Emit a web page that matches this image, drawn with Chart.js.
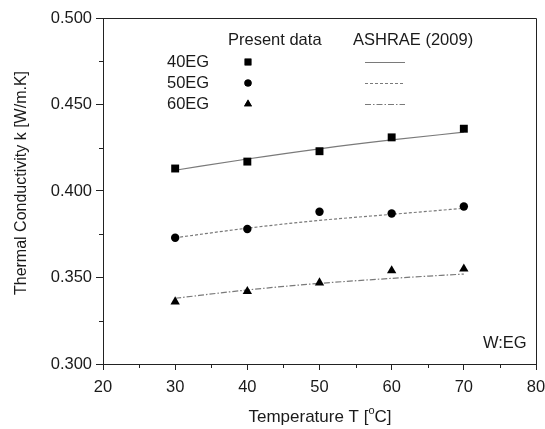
<!DOCTYPE html>
<html>
<head>
<meta charset="utf-8">
<script src="https://cdn.jsdelivr.net/npm/chart.js@4.4.1/dist/chart.umd.min.js"></script>
<style>
  html, body { margin: 0; padding: 0; background: #fff; }
  #wrap { width: 545px; height: 429px; }
</style>
</head>
<body>
<div id="wrap"><canvas id="c" width="545" height="429"></canvas></div>
<script>
// ── Data ─────────────────────────────────────────────
const temps      = [30, 40, 50, 60, 70];
const k40Present = [0.413, 0.417, 0.423, 0.431, 0.436];
const k50Present = [0.373, 0.378, 0.388, 0.387, 0.391];
const k60Present = [0.336, 0.342, 0.347, 0.354, 0.355];
const k40Ashrae  = [0.412, 0.4185, 0.4244, 0.4295, 0.434];
const k50Ashrae  = [0.373, 0.3785, 0.383, 0.3865, 0.390];
const k60Ashrae  = [0.338, 0.3428, 0.3466, 0.3495, 0.352];
const seriesNames = ['40EG', '50EG', '60EG'];
const xTicks = [20, 30, 40, 50, 60, 70, 80];
const yTicks = [0.300, 0.350, 0.400, 0.450, 0.500];

const pts = (ys) => ys.map((y, i) => ({ x: temps[i], y: y }));

const FONT = 'Liberation Sans, Arial, sans-serif';
const TXT = '#1a1a1a';
const lineGray = '#7a7a7a';
const markers = ['rect', 'circle', 'triangle'];
const markerR = [5.6, 4.2, 5.4];
const dashes  = [[], [3, 2], [6, 2, 1.5, 2]];

// ── Frame, minor ticks, titles, legend, note ─────────
const decor = {
  id: 'decor',
  afterDraw(chart) {
    const { ctx, chartArea: a, scales: { x, y } } = chart;
    ctx.save();
    ctx.strokeStyle = '#222';
    ctx.lineWidth = 1;
    ctx.beginPath();
    ctx.moveTo(a.left, a.top + 0.5); ctx.lineTo(a.right + 0.5, a.top + 0.5);
    ctx.lineTo(a.right + 0.5, a.bottom);
    ctx.stroke();
    // minor ticks
    ctx.beginPath();
    for (let i = 0; i < xTicks.length - 1; i++) {
      const px = Math.round(x.getPixelForValue((xTicks[i] + xTicks[i + 1]) / 2)) + 0.5;
      ctx.moveTo(px, a.bottom); ctx.lineTo(px, a.bottom + 4);
    }
    for (let i = 0; i < yTicks.length - 1; i++) {
      const py = Math.round(y.getPixelForValue((yTicks[i] + yTicks[i + 1]) / 2)) + 0.5;
      ctx.moveTo(a.left, py); ctx.lineTo(a.left - 4, py);
    }
    ctx.stroke();

    // axis titles
    ctx.fillStyle = TXT;
    ctx.textBaseline = 'middle';
    ctx.font = '16px ' + FONT;
    ctx.save();
    ctx.translate(22, 183);
    ctx.rotate(-Math.PI / 2);
    ctx.textAlign = 'center';
    ctx.fillText('Thermal Conductivity k [W/m.K]', 0, 0);
    ctx.restore();

    ctx.textAlign = 'left';
    const p1 = 'Temperature T [', p2 = 'o', p3 = 'C]';
    ctx.font = '17px ' + FONT;
    const w1 = ctx.measureText(p1).width;
    ctx.font = '11px ' + FONT;
    const w2 = ctx.measureText(p2).width;
    ctx.font = '17px ' + FONT;
    const w3 = ctx.measureText(p3).width;
    let tx = 320 - (w1 + w2 + w3) / 2;
    const ty = 417;
    ctx.fillText(p1, tx, ty); tx += w1;
    ctx.font = '11px ' + FONT;
    ctx.fillText(p2, tx, ty - 6); tx += w2;
    ctx.font = '17px ' + FONT;
    ctx.fillText(p3, tx, ty);

    // legend
    ctx.font = '16.5px ' + FONT;
    ctx.fillText('Present data', 228, 40);
    ctx.fillText('ASHRAE (2009)', 353, 40);
    const rowY = [62, 83, 104];
    seriesNames.forEach((name, i) => {
      ctx.fillStyle = TXT;
      ctx.fillText(name, 167, rowY[i]);
      ctx.fillStyle = '#000';
      Chart.helpers.drawPoint(ctx, {
        pointStyle: markers[i], radius: markerR[i] * 0.85, rotation: 0, borderWidth: 0
      }, 248, rowY[i]);
      ctx.fill();
      ctx.save();
      ctx.strokeStyle = lineGray;
      ctx.lineWidth = 1;
      ctx.setLineDash(dashes[i]);
      ctx.beginPath();
      ctx.moveTo(365, rowY[i] + 0.5); ctx.lineTo(405, rowY[i] + 0.5);
      ctx.stroke();
      ctx.restore();
    });
    ctx.fillStyle = TXT;
    ctx.fillText('W:EG', 483, 343);
    ctx.restore();
  }
};

const datasets = [];
[k40Ashrae, k50Ashrae, k60Ashrae].forEach((ys, i) => {
  datasets.push({
    label: 'ASHRAE ' + seriesNames[i],
    data: pts(ys),
    showLine: true,
    borderColor: lineGray,
    borderWidth: 1.2,
    borderDash: dashes[i],
    pointRadius: 0,
    cubicInterpolationMode: 'monotone',
    order: 2
  });
});
[k40Present, k50Present, k60Present].forEach((ys, i) => {
  datasets.push({
    label: 'Present ' + seriesNames[i],
    data: pts(ys),
    showLine: false,
    pointStyle: markers[i],
    pointRadius: markerR[i],
    backgroundColor: '#000',
    borderColor: '#000',
    borderWidth: 0,
    order: 1
  });
});

new Chart(document.getElementById('c'), {
  type: 'scatter',
  data: { datasets },
  options: {
    responsive: false,
    animation: false,
    layout: { padding: { top: 18, right: 0, left: 0, bottom: 0 } },
    plugins: { legend: { display: false }, tooltip: { enabled: false } },
    scales: {
      x: {
        type: 'linear', min: 20, max: 80,
        afterBuildTicks: (s) => { s.ticks = xTicks.map(v => ({ value: v })); },
        afterFit: (s) => { s.height = 65; s.paddingRight = 9; s.paddingLeft = 0; },
        grid: { drawOnChartArea: false, color: '#222', tickLength: 6, tickColor: '#222' },
        border: { color: '#222', width: 1 },
        ticks: { color: TXT, font: { family: FONT, size: 16.5 }, padding: 8, maxRotation: 0 },
        title: { display: false }
      },
      y: {
        type: 'linear', min: 0.3, max: 0.5,
        afterBuildTicks: (s) => { s.ticks = yTicks.map(v => ({ value: v })); },
        afterFit: (s) => { s.width = 103; s.paddingTop = 0; s.paddingBottom = 0; },
        grid: { drawOnChartArea: false, color: '#222', tickLength: 7, tickColor: '#222' },
        border: { color: '#222', width: 1 },
        ticks: { color: TXT, font: { family: FONT, size: 16.5 }, padding: 4,
                 callback: (v) => v.toFixed(3) },
        title: { display: false }
      }
    }
  },
  plugins: [decor]
});
</script>
</body>
</html>
